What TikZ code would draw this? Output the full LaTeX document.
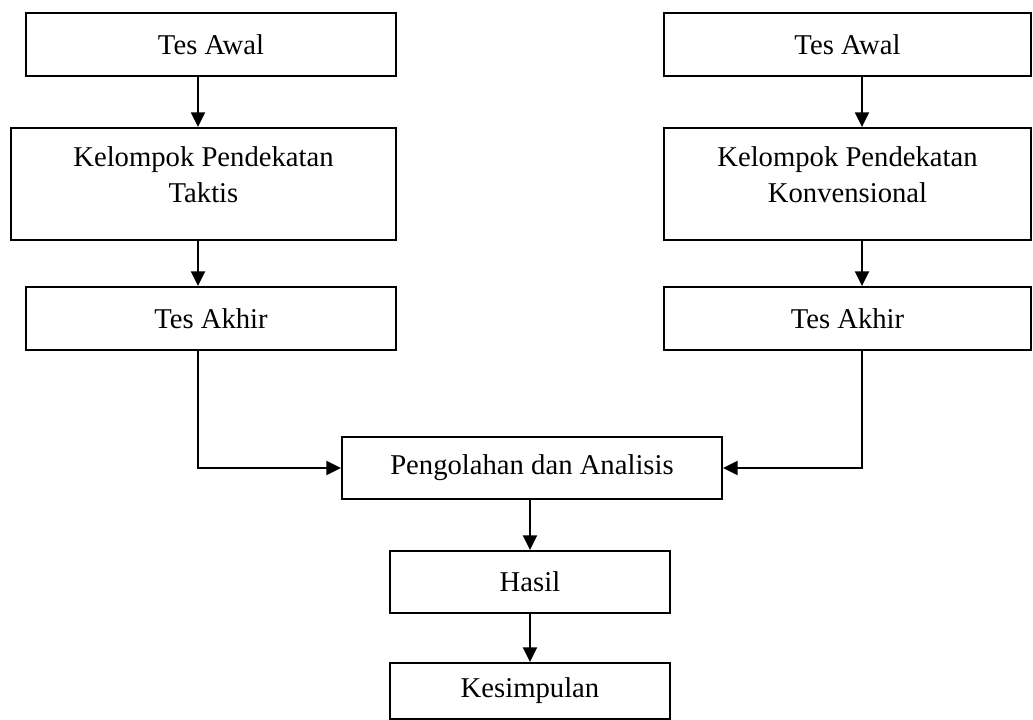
\documentclass[tikz,border=0pt]{standalone}
\usepackage{fontspec}
\setmainfont{Liberation Serif}
\usepackage{tikz}
\usetikzlibrary{arrows.meta,positioning}

\begin{document}
\begin{tikzpicture}[x=0.75pt, y=-0.75pt, line width=1.4pt, >={Triangle[length=11pt,width=10.5pt]},box/.style={rectangle,draw,align=center,inner sep=0pt,font=\fontsize{21.5}{27}\selectfont}]%px coords
\useasboundingbox (0,0) rectangle (1033,720);
\begin{scope}[every node/.style={box}]
\node[minimum width=370*0.75pt, minimum height=63*0.75pt] (l1) at (211,44.5) {Tes Awal};
\node[minimum width=385*0.75pt, minimum height=112*0.75pt, text depth=13.5pt] (l2) at (203.5,184) {Kelompok Pendekatan\\Taktis};
\node[minimum width=370*0.75pt, minimum height=63*0.75pt] (l3) at (211,318.5) {Tes Akhir};
\node[minimum width=367*0.75pt, minimum height=63*0.75pt] (r1) at (847.5,44.5) {Tes Awal};
\node[minimum width=367*0.75pt, minimum height=112*0.75pt, text depth=13.5pt] (r2) at (847.5,184) {Kelompok Pendekatan\\Konvensional};
\node[minimum width=367*0.75pt, minimum height=63*0.75pt] (r3) at (847.5,318.5) {Tes Akhir};
\node[minimum width=380*0.75pt, minimum height=62*0.75pt] (p) at (532,468) {Pengolahan dan Analisis};
\node[minimum width=280*0.75pt, minimum height=62*0.75pt] (h) at (530,582) {Hasil};
\node[minimum width=280*0.75pt, minimum height=56*0.75pt] (k) at (530,691) {Kesimpulan};
\end{scope}
\coordinate (lx) at (198,0);
\coordinate (rx) at (862,0);
\coordinate (cx) at (530,0);
\begin{scope}[every path/.style={draw=black}]
\draw[->] (l1.south -| lx) -- (l2.north -| lx);
\draw[->] (l2.south -| lx) -- (l3.north -| lx);
\draw[->] (r1.south -| rx) -- (r2.north -| rx);
\draw[->] (r2.south -| rx) -- (r3.north -| rx);
\draw[->] (l3.south -| lx) |- (p.west);
\draw[->] (r3.south -| rx) |- (p.east);
\draw[->] (p.south -| cx) -- (h.north -| cx);
\draw[->] (h.south -| cx) -- (k.north -| cx);
\end{scope}
\end{tikzpicture}
\end{document}
